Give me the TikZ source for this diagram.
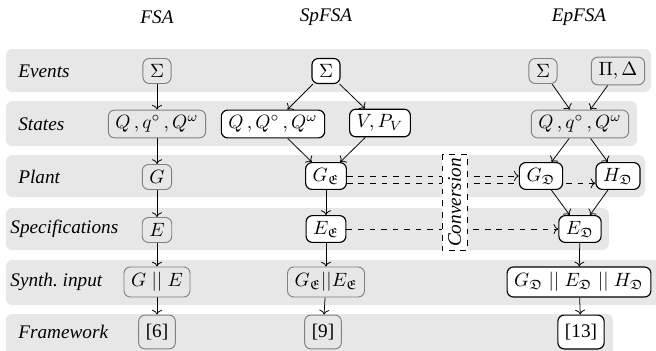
\documentclass[tikz,border=0pt]{standalone}
\usepackage{amssymb}
\usepackage{fontspec}
\setmainfont{Liberation Serif}
\usetikzlibrary{arrows.meta}
\pgfdeclarelayer{bg}
\pgfdeclarelayer{mid}
\pgfsetlayers{bg,mid,main}
\definecolor{bandgray}{gray}{0.905}
\definecolor{softgray}{gray}{0.5}
\begin{document}
\begin{tikzpicture}[x=0.52pt,y=-0.52pt,
  band/.style={fill=bandgray, rounded corners=3.3pt},
  nd/.style={draw=black, fill=white, rounded corners=3.3pt, line width=0.6pt,
    inner xsep=3.7pt, inner ysep=2.8pt, minimum height=13pt},
  gnd/.style={nd, draw=softgray, fill=none, line width=0.5pt},
  fw/.style={minimum height=17.6pt},
  lab/.style={anchor=west, font=\itshape, inner xsep=0pt},
  hdr/.style={font=\itshape},
  arr/.style={->, line width=0.4pt},
  darr/.style={->, dashed, line width=0.4pt}]
\useasboundingbox (0,0) rectangle (656,351);

% bands
\begin{pgfonlayer}{bg}
\fill[band] (6,49) rectangle (651,92);
\fill[band] (6,101) rectangle (637,146);
\fill[band] (6,155) rectangle (645,197);
\fill[band] (6,208) rectangle (609,250);
\fill[band] (6,260) rectangle (664,305);
\fill[band] (6,314) rectangle (613,358);
\end{pgfonlayer}

% headers
\node[hdr] (hF) at (157,17.5) {FSA};
\node[hdr] (hS) at (326,17.5) {SpFSA};
\node[hdr] (hE) at (579,17.5) {EpFSA};

% row labels
\node[lab] (lEv) at (18,71) {Events};
\node[lab] (lSt) at (18,124) {States};
\node[lab] (lPl) at (18,177) {Plant};
\node[lab] (lSp) at (10,229) {Specifications};
\node[lab] (lSy) at (10,282) {Synth.\ input};
\node[lab] (lFw) at (18,332) {Framework};

% FSA
\node[gnd] (fS) at (157,71) {$\Sigma$};
\node[gnd] (fQ) at (157,124) {$Q\,, q^\circ\,, Q^\omega$};
\node[gnd] (fG) at (157,177) {$G$};
\node[gnd] (fE) at (157,230) {$E$};
\node[gnd] (fY) at (157,282) {$G\;||\;E$};
\node[gnd,fw] (fF) at (157,332) {[6]};

% SpFSA
\node[nd] (sS) at (326,71) {$\Sigma$};
\node[nd] (sQ) at (273,124) {$Q\,, Q^\circ\,, Q^\omega$};
\node[nd] (sV) at (380,123) {$V, P_V$};
\node[nd] (sG) at (326,176) {$G_{\mathfrak{E}}$};
\node[nd] (sE) at (326,229) {$E_{\mathfrak{E}}$};
\node[gnd] (sY) at (326,282) {$G_{\mathfrak{E}}||E_{\mathfrak{E}}$};
\node[gnd,fw] (sF) at (323,332) {[9]};

% EpFSA
\node[gnd] (eS) at (543,71) {$\Sigma$};
\node[gnd] (eP) at (618,71) {$\Pi, \Delta$};
\node[gnd] (eQ) at (580,124) {$Q\,, q^\circ\,, Q^\omega$};
\node[nd] (eG) at (541,176) {$G_{\mathfrak{D}}$};
\node[nd] (eH) at (618,176) {$H_{\mathfrak{D}}$};
\node[nd] (eE) at (580,229) {$E_{\mathfrak{D}}$};
\node[nd] (eY) at (579,282) {$G_{\mathfrak{D}}\;||\;E_{\mathfrak{D}}\;||\;H_{\mathfrak{D}}$};
\node[nd,fw] (eF) at (581,332) {[13]};

% conversion box
\node[draw, dashed, fill=white, rotate=90, line width=0.5pt,
  minimum width=50.4pt, minimum height=13pt, inner sep=1pt,
  font=\itshape] (conv) at (454.5,202.5) {Conversion};

\coordinate (lowL) at ([yshift=-3.8pt]sG.east);

\begin{pgfonlayer}{mid}
\draw[arr] (fS) -- (fQ);
\draw[arr] (fQ) -- (fG);
\draw[arr] (fG) -- (fE);
\draw[arr] (fE) -- (fY);
\draw[arr] (fY) -- (fF);

\draw[arr] (sS) -- (sQ);
\draw[arr] (sS) -- (sV);
\draw[arr] (sQ) -- (sG);
\draw[arr] (sV) -- (sG);
\draw[arr] (sG) -- (sE);
\draw[arr] (sE) -- (sY);
\draw[arr] (sY) -- (sF);

\draw[arr] (eS) -- (eQ);
\draw[arr] (eP) -- (eQ);
\draw[arr] (eQ) -- (eG);
\draw[arr] (eQ) -- (eH);
\draw[arr] (eG) -- (eE);
\draw[arr] (eH) -- (eE);
\draw[arr] (eE) -- (eY);
\draw[arr] (eY) -- (eF);

\draw[darr] (sG.east) -- (sG.east -| eG.west);
\draw[darr] (lowL) -- (lowL -| eH.west);
\draw[darr] (sE.east) -- (sE.east -| eE.west);
\end{pgfonlayer}
\end{tikzpicture}
\end{document}
